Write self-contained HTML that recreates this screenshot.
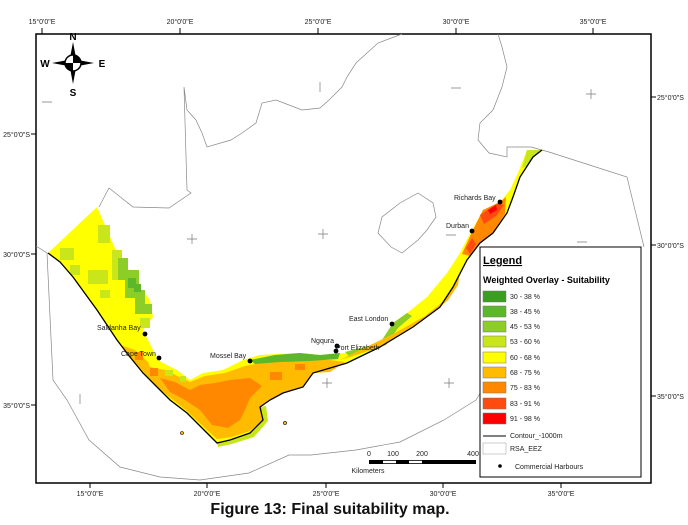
<!DOCTYPE html>
<html><head><meta charset="utf-8"><style>
body{margin:0;background:#fff;width:688px;height:525px;overflow:hidden;font-family:"Liberation Sans",sans-serif}
svg{display:block}
text{font-family:"Liberation Sans",sans-serif}
</style></head><body>
<svg width="688" height="525" viewBox="0 0 688 525">
<rect x="0" y="0" width="688" height="525" fill="#fff"/>
<rect x="36" y="34" width="615" height="449" fill="#fff" stroke="#000" stroke-width="1.5"/>
<g font-size="7" fill="#222" text-anchor="middle">
<text x="42" y="24">15°0'0"E</text><text x="180" y="24">20°0'0"E</text><text x="318" y="24">25°0'0"E</text><text x="456" y="24">30°0'0"E</text><text x="593" y="24">35°0'0"E</text>
</g>
<g stroke="#000" stroke-width="1"><line x1="42" y1="28" x2="42" y2="34"/><line x1="180" y1="28" x2="180" y2="34"/><line x1="318" y1="28" x2="318" y2="34"/><line x1="456" y1="28" x2="456" y2="34"/><line x1="593" y1="28" x2="593" y2="34"/>
<line x1="90" y1="483" x2="90" y2="488"/><line x1="207" y1="483" x2="207" y2="488"/><line x1="326" y1="483" x2="326" y2="488"/><line x1="443" y1="483" x2="443" y2="488"/><line x1="561" y1="483" x2="561" y2="488"/>
<line x1="31" y1="134" x2="36" y2="134"/><line x1="31" y1="254" x2="36" y2="254"/><line x1="31" y1="405" x2="36" y2="405"/>
<line x1="651" y1="97" x2="656" y2="97"/><line x1="651" y1="245" x2="656" y2="245"/><line x1="651" y1="396" x2="656" y2="396"/></g>
<g font-size="7" fill="#222" text-anchor="middle">
<text x="90" y="496">15°0'0"E</text><text x="207" y="496">20°0'0"E</text><text x="326" y="496">25°0'0"E</text><text x="443" y="496">30°0'0"E</text><text x="561" y="496">35°0'0"E</text>
</g>
<g font-size="7" fill="#222" text-anchor="end">
<text x="30" y="137">25°0'0"S</text><text x="30" y="257">30°0'0"S</text><text x="30" y="408">35°0'0"S</text></g>
<g font-size="7" fill="#222">
<text x="657" y="100">25°0'0"S</text><text x="657" y="248">30°0'0"S</text><text x="657" y="399">35°0'0"S</text></g>

<g fill="none" stroke="#888" stroke-width="0.7">
<polyline points="402,34 378,43 356,63 347,77 342,87 329,100 320,108 302,110 276,100 262,103 256,123 242,133 231,140 207,147 202,133 196,120 187,110 184,87 187,190 191,193 169,208 133,207 109,188 99,207"/>
<polyline points="498,34 502,47 507,67 502,87 493,110 480,123 478,140 489,153 507,157 507,147 531,147"/>
<polygon points="418,193 433,203 436,217 427,230 418,240 402,253 391,247 378,233 382,217 400,203"/>
</g>
<polyline fill="none" stroke="#888" stroke-width="0.7" points="36,246 47,253 53,380 67,400 89,440 120,467 160,477 200,480 249,473 289,455 311,455 356,450 400,442 444,420 476,400 484,387"/>
<polyline fill="none" stroke="#888" stroke-width="0.7" points="531,147 549,152 627,177 644,247"/>

<g stroke="#777" stroke-width="0.7">
<path d="M187 239h10M192 234v10M318 234h10M323 229v10M586 94h10M591 89v10M451 88h10M320 82v10M446 235h10M577 242h10M42 102h10M57 250h10M62 245v10M322 383h10M327 378v10M444 383h10M449 378v10M80 394v10"/>
</g>

<g>
<polygon fill="#ffff00" points="97,207 108,232 117,253 128,270 140,287 150,300 153,317 143,330 153,350 158,360 163,363 177,370 190,380 203,373 223,370 243,360 260,355 297,353 320,355 347,353 380,343 393,323 407,313 427,297 447,273 460,253 472,230 483,210 500,202 510,190 518,173 527,150 542,150 533,157 520,177 513,197 507,213 493,233 480,243 467,260 453,287 440,307 413,327 380,347 347,363 313,373 303,387 283,393 270,400 260,407 263,420 250,433 230,440 217,443 207,433 187,413 170,400 157,387 143,373 130,357 117,340 97,310 73,277 60,262 48,253"/>
<g fill="#c8e61a"><rect x="98" y="225" width="12" height="18"/><rect x="112" y="250" width="10" height="30"/><rect x="60" y="248" width="14" height="12"/><rect x="88" y="270" width="20" height="14"/><rect x="70" y="265" width="10" height="10"/><rect x="100" y="290" width="10" height="8"/><rect x="140" y="318" width="10" height="10"/></g>
<g fill="#8ccd28"><rect x="118" y="258" width="10" height="22"/><rect x="125" y="270" width="14" height="28"/><rect x="135" y="290" width="10" height="24"/><rect x="144" y="304" width="8" height="10"/></g>
<g fill="#5cb82a"><rect x="128" y="278" width="8" height="10"/><rect x="134" y="284" width="7" height="8"/></g>
<polygon fill="#ffbb00" points="120,345 135,350 148,362 150,367 165,370 190,382 205,376 225,373 245,366 265,362 297,360 330,360 345,362 330,372 313,373 303,387 283,393 270,400 260,407 263,420 250,431 232,437 217,439 207,430 187,411 168,396 152,382 140,368 128,356"/>
<polygon fill="#ff8800" points="160,378 175,382 190,390 200,385 215,383 230,380 250,378 262,386 250,398 245,410 240,420 228,428 212,425 200,410 185,400 170,392"/>
<g fill="#ff8800"><rect x="135" y="352" width="8" height="8"/><rect x="150" y="368" width="8" height="8"/><rect x="270" y="372" width="12" height="8"/><rect x="295" y="364" width="10" height="6"/></g>
<g fill="#c8e61a"><rect x="165" y="370" width="8" height="6"/><rect x="180" y="376" width="6" height="6"/></g>
<polygon fill="#c8e61a" points="217,443 230,440 250,433 263,420 260,407 266,406 268,421 254,437 232,444 218,447"/>
<polygon fill="#5cb82a" points="250,360 275,355 300,353 320,355 340,353 338,359 310,361 280,362 255,364"/>
<polygon fill="#8ccd28" points="345,352 380,343 393,323 407,313 412,316 398,328 386,345 350,357"/>
<polygon fill="#ffbb00" points="340,360 380,347 413,327 440,307 445,300 425,316 395,333 360,350"/>
<polygon fill="#ff8800" points="472,232 483,210 500,202 506,197 505,214 493,232 480,243 470,256 462,254"/>
<polygon fill="#ff4a10" points="480,215 498,203 504,205 496,216 484,224"/>
<polygon fill="#ff0000" points="488,210 496,205 497,210 490,214"/>
<polygon fill="#ff4a10" points="466,248 472,238 476,244 470,254"/>
<polygon fill="#c8e61a" points="527,150 542,150 533,157 527,166 522,168"/>
<polygon fill="#ffbb00" points="440,307 453,287 460,272 458,285 448,300"/>
</g>
<polyline fill="none" stroke="#000" stroke-width="1.3" points="48,253 60,262 73,277 97,310 117,340 130,357 143,373 157,387 170,400 187,413 207,433 217,443 230,440 250,433 263,420 260,407 270,400 283,393 303,387 313,373 347,363 380,347 413,327 440,307 453,287 467,260 480,243 493,233 507,213 513,197 520,177 533,157 542,150"/>

<g fill="#ffbb00" stroke="#000" stroke-width="0.6"><circle cx="182" cy="433" r="1.5"/><circle cx="285" cy="423" r="1.6"/></g>

<g fill="#000">
<circle cx="145" cy="334" r="2.4"/><circle cx="159" cy="358" r="2.4"/><circle cx="250" cy="361" r="2.4"/><circle cx="337" cy="346" r="2.4"/><circle cx="336" cy="351" r="2.4"/><circle cx="392" cy="324" r="2.4"/><circle cx="472" cy="231" r="2.4"/><circle cx="500" cy="202" r="2.4"/></g>
<g font-size="7" fill="#222">
<text x="97" y="330">Saldanha Bay</text><text x="121" y="356">Cape Town</text><text x="210" y="358">Mossel Bay</text><text x="311" y="343">Ngqura</text><text x="336" y="350">Port Elizabeth</text><text x="349" y="321">East London</text><text x="446" y="228">Durban</text><text x="454" y="200">Richards Bay</text></g>

<g>
<polygon points="73,42 76,58 73,63 70,58" fill="#000"/><polygon points="73,84 76,68 73,63 70,68" fill="#000"/>
<polygon points="52,63 68,60 73,63 68,66" fill="#000"/><polygon points="94,63 78,60 73,63 78,66" fill="#000"/>
<circle cx="73" cy="63" r="8" fill="#fff" stroke="#000" stroke-width="1.5"/>
<path d="M73 55a8 8 0 0 1 8 8h-8z" fill="#000"/><path d="M73 71a8 8 0 0 1 -8 -8h8z" fill="#000"/>
<g font-size="10" font-weight="bold" text-anchor="middle" fill="#000" style="font-family:'Liberation Serif',serif"><text x="73" y="40">N</text><text x="73" y="96">S</text><text x="45" y="67">W</text><text x="102" y="67">E</text></g>
</g>

<g>
<g font-size="7" fill="#222" text-anchor="middle"><text x="369" y="456">0</text><text x="393" y="456">100</text><text x="422" y="456">200</text><text x="473" y="456">400</text><text x="368" y="473">Kilometers</text></g>
<rect x="369" y="460" width="107" height="4" fill="#000"/><rect x="383" y="460.8" width="13" height="2.4" fill="#fff"/><rect x="409" y="460.8" width="13" height="2.4" fill="#fff"/>
</g>

<g>
<rect x="480" y="247" width="161" height="230" fill="#fff" stroke="#000" stroke-width="1"/>
<text x="483" y="264" font-size="11" font-weight="bold" text-decoration="underline" fill="#000">Legend</text>
<text x="483" y="283" font-size="9" font-weight="bold" fill="#000">Weighted Overlay - Suitability</text>
<g stroke="#777" stroke-width="0.5">
<rect x="483" y="291" width="23" height="11" fill="#3a9e1e"/>
<rect x="483" y="306" width="23" height="11" fill="#5cb82a"/>
<rect x="483" y="321" width="23" height="11" fill="#8ccd28"/>
<rect x="483" y="336" width="23" height="11" fill="#c8e61a"/>
<rect x="483" y="352" width="23" height="11" fill="#ffff00"/>
<rect x="483" y="367" width="23" height="11" fill="#ffbb00"/>
<rect x="483" y="382" width="23" height="11" fill="#ff8800"/>
<rect x="483" y="398" width="23" height="11" fill="#ff4a10"/>
<rect x="483" y="413" width="23" height="11" fill="#ff0000"/>
<rect x="483" y="443" width="23" height="11" fill="#fff" stroke="#999"/>
</g>
<g font-size="7" fill="#222">
<text x="510" y="299">30 - 38 %</text><text x="510" y="314">38 - 45 %</text><text x="510" y="329">45 - 53 %</text><text x="510" y="344">53 - 60 %</text><text x="510" y="360">60 - 68 %</text><text x="510" y="375">68 - 75 %</text><text x="510" y="390">75 - 83 %</text><text x="510" y="406">83 - 91 %</text><text x="510" y="421">91 - 98 %</text><text x="510" y="438">Contour_-1000m</text><text x="510" y="451">RSA_EEZ</text><text x="515" y="469">Commercial Harbours</text></g>
<line x1="483" y1="436" x2="506" y2="436" stroke="#000" stroke-width="1"/>
<circle cx="500" cy="466" r="1.8" fill="#000"/>
</g>

<text x="330" y="514" font-size="16" font-weight="bold" text-anchor="middle" fill="#111">Figure 13: Final suitability map.</text>
</svg>
</body></html>
